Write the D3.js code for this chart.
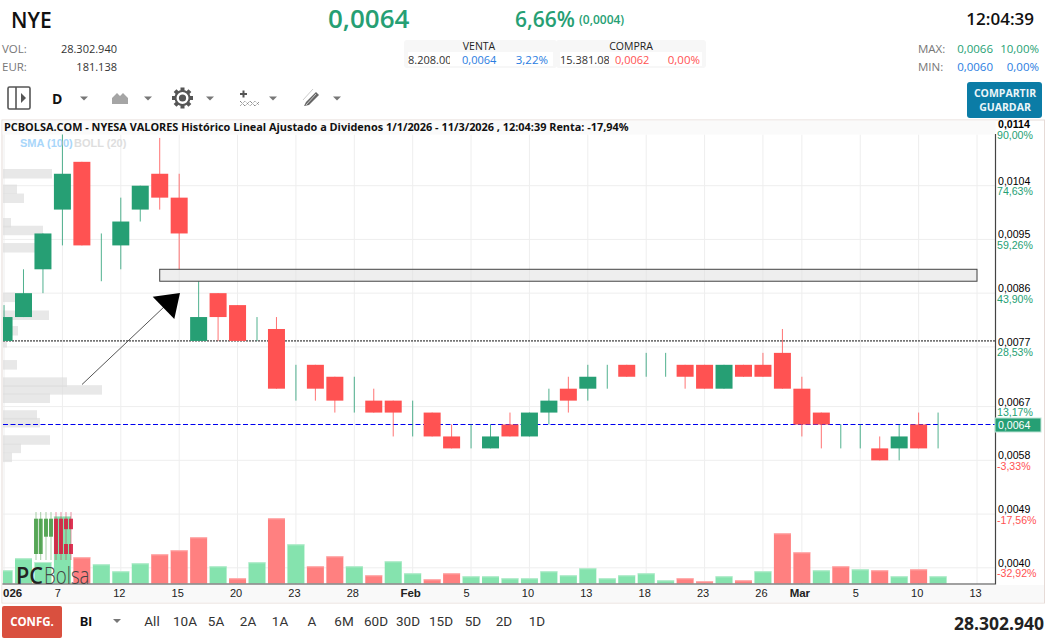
<!DOCTYPE html>
<html>
<head>
<meta charset="utf-8">
<script src="https://cdn.jsdelivr.net/npm/d3@7"></script>
<style>
html, body { margin: 0; padding: 0; background: #fff; overflow: hidden; }
svg { display: block; }
.hdr { font-family: "Open Sans", sans-serif; }
.axis { font-family: "Liberation Sans", Arial, sans-serif; }
.btn { font-family: Roboto, sans-serif; }
</style>
</head>
<body>
<div id="viz"></div>
<script>
// candle data, one entry per trading session (2 Jan - 11 Mar 2026)
var dayLabels = ['026','','','7','','','12','','','15','','','20','','','23','','','28','','','Feb','','','5','','','10','','','13','','','18','','','23','','','26','','Mar','','','5','','','10','','','13'];
var opens  = [.0078,.0082,.0090,.0100,.0108,.0096,.0094,.0100,.0106,.0102,.0078,.0086,.0084,.0082,.0080,.0074,.0074,.0072,.0072,.0068,.0068,.0068,.0066,.0062,.0064,.0060,.0064,.0062,.0066,.0070,.0070,.0074,.0074,.0076,.0076,.0074,.0074,.0070,.0074,.0074,.0076,.0070,.0066,.0064,.0064,.0060,.0060,.0064,.0066];
var closes = [.0082,.0086,.0096,.0106,.0094,.0096,.0098,.0104,.0102,.0096,.0082,.0082,.0078,.0082,.0070,.0074,.0070,.0068,.0072,.0066,.0066,.0068,.0062,.0060,.0064,.0062,.0062,.0066,.0068,.0068,.0072,.0074,.0072,.0076,.0076,.0072,.0070,.0074,.0072,.0072,.0070,.0064,.0064,.0064,.0064,.0058,.0062,.0060,.0066];
var highs  = [.0084,.0090,.0096,.0114,.0108,.0096,.0102,.0104,.0112,.0106,.0088,.0086,.0084,.0082,.0082,.0074,.0074,.0072,.0072,.0070,.0068,.0068,.0066,.0064,.0064,.0064,.0066,.0066,.0070,.0072,.0074,.0074,.0074,.0076,.0076,.0074,.0074,.0074,.0074,.0076,.0080,.0072,.0066,.0064,.0064,.0062,.0064,.0066,.0066];
var lows   = [.0078,.0082,.0086,.0094,.0094,.0088,.0090,.0098,.0100,.0090,.0078,.0078,.0078,.0078,.0070,.0068,.0068,.0066,.0066,.0066,.0062,.0062,.0062,.0060,.0060,.0060,.0062,.0062,.0064,.0066,.0068,.0070,.0072,.0072,.0072,.0070,.0070,.0070,.0072,.0072,.0070,.0062,.0060,.0060,.0060,.0058,.0058,.0060,.0060];
// volume in millions, 'g' or 'r' bar colour
var volumes = [52,100,85,269,104,76,48,80,116,132,184,68,20,84,260,156,68,108,68,32,88,40,16,40,28,28,20,20,48,32,60,20,32,40,12,20,8,28,12,48,200,124,52,68,56,52,28,56,28];
var volDirs = 'gggg r ggg rrr g r g r g rr g r g g rr gg ggggggggg rr g r g rr g r g r g r g'.replace(/ /g, '').split('');
// volume by price at the left edge
var profilePrices = [.0106,.01034,.01019,.00978,.00965,.00936,.00853,.00823,.00797,.00777,.0074,.00711,.00698,.00684,.00656,.00643,.00614,.0060,.00585];
var profileVols   = [49,14,21,8,40,32,12,46,15,4,14,64,99,47,34,37,47,18,9];
// right hand scale
var priceTicks = [.0114,.0104,.0095,.0086,.0077,.0067,.0058,.0049,.0040];
var priceTickLabels = ['0,0114','0,0104','0,0095','0,0086','0,0077','0,0067','0,0058','0,0049','0,0040'];
var pctLabels = ['90,00%','74,63%','59,26%','43,90%','28,53%','13,17%','-3,33%','-17,56%','-32,92%'];
var rangeButtons = ['All','10A','5A','2A','1A','A','6M','60D','30D','15D','5D','2D','1D'];
var rangeButtonX = [152,185,216,248,280,312,344,376,408,441,473,504,537];

var width = 1058;
var height = 643;
var green = '#269f74';
var red = '#ff5252';
var plot = { l: 3, r: 995.5, t: 134.5, b: 584 };

var x = d3.scaleLinear().domain([0, 50]).range([4.04, 977]);
var y = d3.scaleLinear().domain([.0040, .0114]).range([567.8, 126]);
var yVol = d3.scaleLinear().domain([0, 300]).range([583.3, 508.3]);
var xProfile = d3.scaleLinear().domain([0, 100]).range([plot.l, 103]);
var bodyW = 17;

var svg = d3.select('#viz').append('svg')
  .attr('width', width)
  .attr('height', height);

svg.append('defs').append('clipPath').attr('id', 'plotClip')
  .append('rect')
  .attr('x', plot.l).attr('y', plot.t)
  .attr('width', plot.r - plot.l).attr('height', plot.b - plot.t);

function txt(parent, cls, s, px, py, size, color, anchor, weight) {
  return parent.append('text')
    .attr('class', cls)
    .attr('x', px).attr('y', py)
    .attr('font-size', size)
    .attr('fill', color)
    .attr('text-anchor', anchor || 'start')
    .attr('font-weight', weight || 400)
    .text(s);
}

// header
var head = svg.append('g');
txt(head, 'hdr', 'NYE', 11, 28, 21, '#111', 'start', 600);
txt(head, 'hdr', '0,0064', 328, 28, 26, green, 'start', 600);
txt(head, 'hdr', '6,66%', 515, 27, 21, green, 'start', 600);
txt(head, 'hdr', '(0,0004)', 579, 24, 12, green, 'start', 600);
txt(head, 'hdr', '12:04:39', 1034, 25, 17, '#111', 'end', 600);
txt(head, 'hdr', 'VOL:', 2, 53, 11.5, '#777');
txt(head, 'hdr', 'EUR:', 2, 71, 11.5, '#777');
txt(head, 'hdr', '28.302.940', 117, 53, 11, '#333', 'end');
txt(head, 'hdr', '181.138', 117, 71, 11, '#333', 'end');

[[404, 153], [556, 150]].forEach(function(b) {
  head.append('rect').attr('x', b[0]).attr('y', 40).attr('width', b[1]).attr('height', 28)
    .attr('rx', 3).attr('fill', '#f7f7f7');
});
head.append('rect').attr('x', 408).attr('y', 52).attr('width', 145).attr('height', 14).attr('fill', '#fff');
head.append('rect').attr('x', 560).attr('y', 52).attr('width', 142).attr('height', 14).attr('fill', '#fff');
txt(head, 'hdr', 'VENTA', 479, 50, 10.5, '#222', 'middle');
txt(head, 'hdr', 'COMPRA', 631, 50, 10.5, '#222', 'middle');
// both order sizes are cut by their cell in the reference
txt(head, 'hdr', '8.208.000', 408, 64, 11, '#333');
head.append('rect').attr('x', 450).attr('y', 52).attr('width', 12).attr('height', 14).attr('fill', '#fff');
txt(head, 'hdr', '0,0064', 462, 64, 11, '#2a7de1');
txt(head, 'hdr', '3,22%', 548, 64, 11.5, '#2a7de1', 'end');
txt(head, 'hdr', '15.381.08', 560, 64, 11, '#333');
head.append('rect').attr('x', 609).attr('y', 52).attr('width', 6).attr('height', 14).attr('fill', '#fff');
txt(head, 'hdr', '0,0062', 615, 64, 11, red);
txt(head, 'hdr', '0,00%', 700, 64, 11.5, red, 'end');
txt(head, 'hdr', 'MAX:', 918, 53, 11.5, '#777');
txt(head, 'hdr', 'MIN:', 918, 71, 11.5, '#777');
txt(head, 'hdr', '0,0066', 993, 53, 11.5, green, 'end');
txt(head, 'hdr', '10,00%', 1039, 53, 11.5, green, 'end');
txt(head, 'hdr', '0,0060', 993, 71, 11.5, '#2a7de1', 'end');
txt(head, 'hdr', '0,00%', 1039, 71, 11.5, '#2a7de1', 'end');

head.append('rect').attr('x', 967).attr('y', 82).attr('width', 75).attr('height', 36).attr('rx', 3).attr('fill', '#0b7ca6');
txt(head, 'hdr', 'COMPARTIR', 1005, 97, 10.5, '#eaf5f9', 'middle', 700);
txt(head, 'hdr', 'GUARDAR', 1005, 111, 10.5, '#eaf5f9', 'middle', 700);

// toolbar, small drawn icons
var tb = svg.append('g');
function caret(cx) {
  tb.append('path').attr('d', 'M' + (cx - 4) + ',96.5h8l-4,4z').attr('fill', '#777');
}
tb.append('rect').attr('x', 8).attr('y', 87).attr('width', 22).attr('height', 22).attr('rx', 1.5)
  .attr('fill', 'none').attr('stroke', '#555').attr('stroke-width', 1.6);
tb.append('path').attr('d', 'M16,87v22').attr('stroke', '#555').attr('stroke-width', 1.6);
tb.append('path').attr('d', 'M21,93l5,5l-5,5z').attr('fill', '#555');
txt(tb, 'hdr', 'D', 52, 104, 14, '#111', 'start', 700);
caret(84);
tb.append('path').attr('d', 'M112,104v-6l5,-5l3,3l3,-3l5,5v6z').attr('fill', '#a5a5a5');
caret(148);
var gear = tb.append('g').attr('transform', 'translate(182.5,98)');
d3.range(8).forEach(function(i) {
  gear.append('rect').attr('x', -2).attr('y', -10.5).attr('width', 4).attr('height', 5)
    .attr('fill', '#555').attr('transform', 'rotate(' + i * 45 + ')');
});
gear.append('circle').attr('r', 7).attr('fill', '#fff').attr('stroke', '#555').attr('stroke-width', 2);
gear.append('circle').attr('r', 3.6).attr('fill', '#555');
caret(210);
tb.append('path').attr('d', 'M240,94h7M243.5,90.5v7').attr('stroke', '#555').attr('stroke-width', 2);
tb.append('path').attr('d', 'M240,101l5,5l5,-5l5,5l4,-4').attr('fill', 'none').attr('stroke', '#555').attr('stroke-dasharray', '1,1');
tb.append('path').attr('d', 'M240,106l5,-5l5,5l5,-5l4,4').attr('fill', 'none').attr('stroke', '#888').attr('stroke-dasharray', '1,1');
caret(273);
tb.append('path').attr('d', 'M306,102l10,-10l3,3l-10,10l-5,1z').attr('fill', '#666');
tb.append('path').attr('d', 'M303,100l10,-11M306,105l10,-11').attr('stroke', '#ccc').attr('stroke-width', 1);
caret(337);

// frame and title bar
svg.append('rect').attr('x', 2).attr('y', 120).attr('width', 1042.5).attr('height', 483)
  .attr('fill', '#fff').attr('stroke', '#e6dbd7');
svg.append('rect').attr('x', 2.5).attr('y', 120.5).attr('width', 993).attr('height', 14).attr('fill', '#fafafa');
svg.append('rect').attr('x', 2.5).attr('y', 585).attr('width', 1041.5).attr('height', 17.5).attr('fill', '#f9f9f9');

// plot
var chart = svg.append('g').attr('clip-path', 'url(#plotClip)');

chart.append('g').selectAll('line').data(priceTicks).join('line')
  .attr('x1', plot.l).attr('x2', plot.r)
  .attr('y1', function(d) { return y(d); }).attr('y2', function(d) { return y(d); })
  .attr('stroke', '#eeeeee').attr('stroke-width', 1);

var tickIdx = d3.range(dayLabels.length).filter(function(i) { return dayLabels[i] !== ''; });
chart.append('g').selectAll('line').data(tickIdx).join('line')
  .attr('x1', function(d) { return x(d); }).attr('x2', function(d) { return x(d); })
  .attr('y1', plot.t).attr('y2', plot.b)
  .attr('stroke', '#eeeeee').attr('stroke-width', 1);

chart.append('g').selectAll('rect').data(profilePrices).join('rect')
  .attr('x', plot.l)
  .attr('y', function(d) { return y(d) - 4.75; })
  .attr('width', function(d, i) { return xProfile(profileVols[i]) - plot.l; })
  .attr('height', 9.5)
  .attr('fill', '#dcdcdc').attr('opacity', .65);

chart.append('g').selectAll('rect').data(volumes).join('rect')
  .attr('x', function(d, i) { return x(i) - bodyW / 2; })
  .attr('y', function(d) { return yVol(d); })
  .attr('width', bodyW)
  .attr('height', function(d) { return yVol(0) - yVol(d); })
  .attr('fill', function(d, i) { return volDirs[i] == 'g' ? '#85e3ae' : '#ff8080'; });
chart.append('g').selectAll('rect').data(volumes).join('rect')
  .attr('x', function(d, i) { return x(i) - bodyW / 2; })
  .attr('y', function(d) { return yVol(d); })
  .attr('width', bodyW)
  .attr('height', 1)
  .attr('fill', function(d, i) { return volDirs[i] == 'g' ? '#bdeed2' : '#ffb4b4'; });

// watermark logo, sits over the volume bars
var logo = chart.append('g');
[36, 40.7, 46, 51, 56, 61, 66, 71].forEach(function(lx, i) {
  var c = i < 4 ? '#3f9a3f' : '#d8163c';
  logo.append('line').attr('x1', lx).attr('x2', lx).attr('y1', 512).attr('y2', 560)
    .attr('stroke', c).attr('stroke-width', 1).attr('opacity', .45);
  var parts = i < 2 || i == 4 || i == 5 ? [[518.7, 35.3]] : i < 4 ? [[518.7, 18]] : [[518.7, 10.5], [544, 10]];
  parts.forEach(function(p) {
    logo.append('rect').attr('x', lx - 2).attr('y', p[0]).attr('width', 4).attr('height', p[1])
      .attr('fill', c).attr('opacity', .85);
  });
});
logo.append('text').attr('class', 'hdr').attr('x', 16).attr('y', 583.5).attr('font-size', 23).attr('font-weight', 600).attr('fill', '#222').attr('textLength', 27).attr('lengthAdjust', 'spacingAndGlyphs').text('PC');
logo.append('text').attr('class', 'hdr').attr('x', 44).attr('y', 583.5).attr('font-size', 23).attr('font-weight', 300).attr('fill', '#444').attr('textLength', 45.5).attr('lengthAdjust', 'spacingAndGlyphs').text('Bolsa');

// reference lines, candles are drawn over them
chart.append('line').attr('x1', plot.l).attr('x2', plot.r).attr('y1', y(.0078)).attr('y2', y(.0078))
  .attr('stroke', '#111').attr('stroke-dasharray', '2,1');
chart.append('line').attr('x1', plot.l).attr('x2', plot.r).attr('y1', y(.0064)).attr('y2', y(.0064))
  .attr('stroke', '#0000ee').attr('stroke-dasharray', '5,2.5');

chart.append('g').selectAll('line').data(highs).join('line')
  .attr('x1', function(d, i) { return x(i); }).attr('x2', function(d, i) { return x(i); })
  .attr('y1', function(d) { return y(d); })
  .attr('y2', function(d, i) { return y(lows[i]); })
  .attr('stroke', function(d, i) { return closes[i] >= opens[i] ? green : red; })
  .attr('stroke-width', 1).attr('opacity', .8);

chart.append('g').selectAll('rect').data(opens).join('rect')
  .attr('x', function(d, i) { return x(i) - bodyW / 2; })
  .attr('y', function(d, i) { return y(Math.max(d, closes[i])); })
  .attr('width', bodyW)
  .attr('height', function(d, i) { return Math.abs(y(d) - y(closes[i])); })
  .attr('fill', function(d, i) { return closes[i] > d ? green : red; });

// drawn objects
chart.append('rect').attr('x', x(8)).attr('y', y(.0090)).attr('width', x(50) - x(8)).attr('height', y(.0088) - y(.0090))
  .attr('fill', '#dddddd').attr('fill-opacity', .5).attr('stroke', '#444');
chart.append('path').attr('d', 'M82,384.5L165,306').attr('stroke', '#555').attr('fill', 'none');
chart.append('path').attr('d', 'M180,293L152.7,296.7L174.3,319Z').attr('fill', '#000');

// axes
svg.append('path').attr('d', 'M2.5,584H995.5V134').attr('fill', 'none').attr('stroke', '#444').attr('stroke-width', 1.2);

var yAx = svg.append('g');
priceTicks.forEach(function(d, i) {
  var ty = Math.max(y(d), 129);
  txt(yAx, 'axis', priceTickLabels[i], 998, ty - 1, 10.6, '#000', 'start', i == 0 ? 700 : 400);
  txt(yAx, 'axis', pctLabels[i], 997, ty + 9.5, 10.6, pctLabels[i][0] == '-' ? red : green);
});
svg.append('rect').attr('x', 995).attr('y', 418).attr('width', 46).attr('height', 14).attr('fill', green)
  .attr('stroke', '#bfe3d5');
txt(svg, 'axis', '0,0064', 998, 429, 10.6, '#fff');

// x axis labels
tickIdx.forEach(function(i) {
  var lab = dayLabels[i];
  if (lab == 'Feb' || lab == 'Mar') {
    txt(svg, 'axis', lab, x(i) - 2, 597, 11.5, '#222', 'middle', 700);
  } else if (i == 0) {
    txt(svg, 'axis', lab, 3, 597, 11.5, '#222', 'start', 700);
  } else {
    txt(svg, 'axis', lab, x(i) - 7.6, 597, 11, '#222');
  }
});

txt(svg, 'hdr', 'PCBOLSA.COM - NYESA VALORES Histórico Lineal Ajustado a Dividenos 1/1/2026 - 11/3/2026 , 12:04:39 Renta: -17,94%', 4, 131, 10.9, '#111', 'start', 700);
txt(svg, 'axis', 'SMA (100)', 20, 147, 11, '#a8d6fa', 'start', 700);
txt(svg, 'axis', 'BOLL (20)', 74, 147, 11, '#dedede', 'start', 700);

// bottom bar
var bot = svg.append('g');
bot.append('rect').attr('x', 2).attr('y', 606).attr('width', 60).attr('height', 32).attr('rx', 2).attr('fill', '#d9503f');
txt(bot, 'hdr', 'CONFG.', 32, 626, 11.5, '#fff', 'middle', 700);
txt(bot, 'btn', 'BI', 80, 626, 13, '#111', 'start', 700);
bot.append('path').attr('d', 'M113,619h8l-4,4z').attr('fill', '#777');
rangeButtons.forEach(function(b, i) {
  txt(bot, 'btn', b, rangeButtonX[i], 626, 13.5, '#333', 'middle');
});
txt(bot, 'hdr', '28.302.940', 1044, 630, 17.5, '#222', 'end', 700);
</script>
</body>
</html>
